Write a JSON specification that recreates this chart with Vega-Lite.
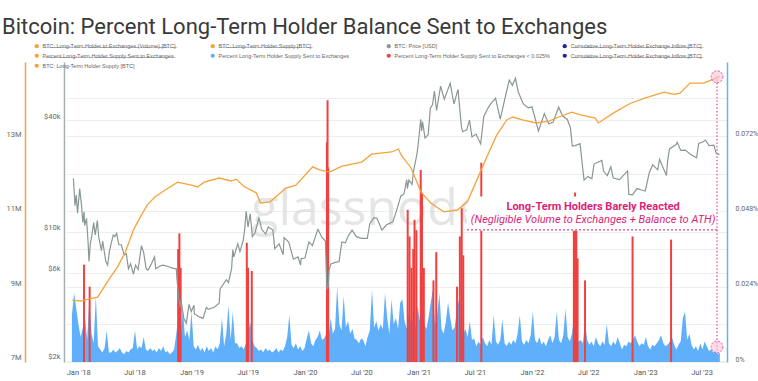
{
"$schema":"https://vega.github.io/schema/vega-lite/v6.json",
"width":661,"height":300,
"autosize":{"type":"none"},
"padding":{"left":66,"top":62,"right":31,"bottom":19},
"background":"white",
"title":{"text":"Bitcoin: Percent Long-Term Holder Balance Sent to Exchanges","anchor":"start","frame":"group","dx":-64,"fontSize":22,"font":"Roboto","fontWeight":"normal","color":"#3a3a3a"},
"config":{"view":{"stroke":null},"axis":{"title":null,"labelFont":"Roboto","labelFontSize":7.5,"labelColor":"#666","ticks":false,"grid":false}},
"datasets":{
"price":[{"d":"2017-12-16","v":19400},{"d":"2017-12-17","v":19100},{"d":"2017-12-22","v":13800},{"d":"2017-12-26","v":15800},{"d":"2017-12-30","v":12600},{"d":"2018-01-06","v":17100},{"d":"2018-01-12","v":13800},{"d":"2018-01-16","v":11200},{"d":"2018-01-20","v":12800},{"d":"2018-01-22","v":10800},{"d":"2018-01-28","v":11800},{"d":"2018-02-02","v":8800},{"d":"2018-02-05","v":6900},{"d":"2018-02-09","v":8600},{"d":"2018-02-14","v":9500},{"d":"2018-02-20","v":11200},{"d":"2018-02-25","v":9600},{"d":"2018-03-04","v":11500},{"d":"2018-03-08","v":9400},{"d":"2018-03-17","v":7900},{"d":"2018-03-21","v":8900},{"d":"2018-03-31","v":6900},{"d":"2018-04-06","v":6600},{"d":"2018-04-12","v":7900},{"d":"2018-04-24","v":9600},{"d":"2018-04-29","v":9400},{"d":"2018-05-05","v":9800},{"d":"2018-05-12","v":8500},{"d":"2018-05-20","v":8500},{"d":"2018-05-29","v":7500},{"d":"2018-06-05","v":7600},{"d":"2018-06-12","v":6300},{"d":"2018-06-19","v":6700},{"d":"2018-06-28","v":5900},{"d":"2018-07-05","v":6600},{"d":"2018-07-13","v":6250},{"d":"2018-07-24","v":8400},{"d":"2018-07-31","v":7700},{"d":"2018-08-08","v":6300},{"d":"2018-08-14","v":6200},{"d":"2018-08-25","v":6700},{"d":"2018-09-04","v":7300},{"d":"2018-09-08","v":6300},{"d":"2018-09-20","v":6500},{"d":"2018-10-01","v":6600},{"d":"2018-10-15","v":6500},{"d":"2018-11-01","v":6350},{"d":"2018-11-13","v":6300},{"d":"2018-11-15","v":5600},{"d":"2018-11-20","v":4500},{"d":"2018-11-25","v":3900},{"d":"2018-11-28","v":4300},{"d":"2018-12-07","v":3400},{"d":"2018-12-15","v":3200},{"d":"2018-12-24","v":4050},{"d":"2018-12-31","v":3700},{"d":"2019-01-09","v":4000},{"d":"2019-01-10","v":3600},{"d":"2019-01-28","v":3450},{"d":"2019-02-07","v":3400},{"d":"2019-02-18","v":3900},{"d":"2019-02-24","v":3800},{"d":"2019-03-15","v":3900},{"d":"2019-03-31","v":4100},{"d":"2019-04-03","v":4900},{"d":"2019-04-23","v":5500},{"d":"2019-04-30","v":5300},{"d":"2019-05-10","v":6300},{"d":"2019-05-14","v":8000},{"d":"2019-05-17","v":7300},{"d":"2019-05-30","v":8600},{"d":"2019-06-06","v":7800},{"d":"2019-06-16","v":8900},{"d":"2019-06-21","v":10200},{"d":"2019-06-26","v":12900},{"d":"2019-07-02","v":10600},{"d":"2019-07-09","v":12500},{"d":"2019-07-16","v":9400},{"d":"2019-07-25","v":9900},{"d":"2019-08-06","v":11900},{"d":"2019-08-15","v":10300},{"d":"2019-08-28","v":9700},{"d":"2019-09-05","v":10600},{"d":"2019-09-20","v":10200},{"d":"2019-09-26","v":8100},{"d":"2019-10-10","v":8600},{"d":"2019-10-23","v":7500},{"d":"2019-10-26","v":9300},{"d":"2019-11-10","v":8800},{"d":"2019-11-25","v":7100},{"d":"2019-12-10","v":7300},{"d":"2019-12-18","v":6600},{"d":"2019-12-20","v":7150},{"d":"2020-01-01","v":7200},{"d":"2020-01-14","v":8800},{"d":"2020-01-25","v":8400},{"d":"2020-02-12","v":10300},{"d":"2020-02-25","v":9300},{"d":"2020-03-07","v":8900},{"d":"2020-03-12","v":4900},{"d":"2020-03-16","v":5000},{"d":"2020-03-19","v":6200},{"d":"2020-03-25","v":6700},{"d":"2020-04-05","v":6800},{"d":"2020-04-20","v":6900},{"d":"2020-04-29","v":8800},{"d":"2020-05-10","v":8700},{"d":"2020-05-20","v":9500},{"d":"2020-06-01","v":10200},{"d":"2020-06-15","v":9400},{"d":"2020-07-01","v":9200},{"d":"2020-07-20","v":9200},{"d":"2020-07-28","v":11000},{"d":"2020-08-10","v":11900},{"d":"2020-08-20","v":11800},{"d":"2020-09-05","v":10200},{"d":"2020-09-20","v":10900},{"d":"2020-10-10","v":11300},{"d":"2020-10-21","v":12800},{"d":"2020-11-05","v":15600},{"d":"2020-11-15","v":16000},{"d":"2020-11-24","v":19100},{"d":"2020-11-26","v":17100},{"d":"2020-12-01","v":19000},{"d":"2020-12-11","v":18000},{"d":"2020-12-16","v":21300},{"d":"2020-12-27","v":26300},{"d":"2021-01-02","v":32000},{"d":"2021-01-08","v":40500},{"d":"2021-01-11","v":35000},{"d":"2021-01-14","v":39200},{"d":"2021-01-22","v":32000},{"d":"2021-02-01","v":33500},{"d":"2021-02-08","v":46400},{"d":"2021-02-15","v":48700},{"d":"2021-02-21","v":57500},{"d":"2021-02-28","v":45200},{"d":"2021-03-13","v":61200},{"d":"2021-03-25","v":52000},{"d":"2021-04-13","v":63500},{"d":"2021-04-25","v":49000},{"d":"2021-05-08","v":58800},{"d":"2021-05-12","v":49500},{"d":"2021-05-19","v":37000},{"d":"2021-05-23","v":34700},{"d":"2021-06-05","v":35500},{"d":"2021-06-14","v":40100},{"d":"2021-06-22","v":32500},{"d":"2021-07-05","v":33700},{"d":"2021-07-20","v":29800},{"d":"2021-07-30","v":42000},{"d":"2021-08-14","v":47000},{"d":"2021-08-23","v":49500},{"d":"2021-09-06","v":52600},{"d":"2021-09-21","v":40600},{"d":"2021-10-05","v":51500},{"d":"2021-10-20","v":66000},{"d":"2021-10-30","v":61800},{"d":"2021-11-09","v":67500},{"d":"2021-11-18","v":56900},{"d":"2021-12-04","v":49200},{"d":"2021-12-20","v":46700},{"d":"2022-01-01","v":47300},{"d":"2022-01-10","v":41800},{"d":"2022-01-22","v":35000},{"d":"2022-02-10","v":43500},{"d":"2022-02-24","v":38300},{"d":"2022-03-10","v":39000},{"d":"2022-03-28","v":47100},{"d":"2022-04-10","v":42200},{"d":"2022-04-25","v":40400},{"d":"2022-05-05","v":36500},{"d":"2022-05-11","v":29000},{"d":"2022-05-20","v":29200},{"d":"2022-06-05","v":29900},{"d":"2022-06-13","v":22400},{"d":"2022-06-18","v":19000},{"d":"2022-06-30","v":19900},{"d":"2022-07-13","v":19300},{"d":"2022-07-20","v":23200},{"d":"2022-08-14","v":24300},{"d":"2022-08-20","v":21200},{"d":"2022-09-01","v":20100},{"d":"2022-09-12","v":22400},{"d":"2022-09-20","v":19500},{"d":"2022-10-10","v":19100},{"d":"2022-10-28","v":20600},{"d":"2022-11-05","v":21300},{"d":"2022-11-09","v":15900},{"d":"2022-11-21","v":15800},{"d":"2022-12-05","v":17100},{"d":"2022-12-20","v":16800},{"d":"2023-01-01","v":16600},{"d":"2023-01-14","v":20900},{"d":"2023-01-25","v":23000},{"d":"2023-02-10","v":21600},{"d":"2023-02-16","v":24600},{"d":"2023-03-10","v":20100},{"d":"2023-03-14","v":24200},{"d":"2023-03-20","v":28000},{"d":"2023-04-10","v":29600},{"d":"2023-04-14","v":30400},{"d":"2023-04-25","v":27500},{"d":"2023-05-10","v":27600},{"d":"2023-05-25","v":26300},{"d":"2023-06-15","v":25100},{"d":"2023-06-22","v":30000},{"d":"2023-07-05","v":30500},{"d":"2023-07-14","v":31300},{"d":"2023-07-25","v":29200},{"d":"2023-08-10","v":29400},{"d":"2023-08-17","v":26600},{"d":"2023-08-28","v":26100}],
"supply":[{"d":"2017-12-13","v":8.55},{"d":"2018-01-10","v":8.52},{"d":"2018-02-05","v":8.58},{"d":"2018-03-05","v":8.63},{"d":"2018-04-09","v":9.09},{"d":"2018-05-08","v":9.44},{"d":"2018-06-02","v":9.84},{"d":"2018-06-28","v":10.43},{"d":"2018-07-20","v":10.78},{"d":"2018-08-11","v":11.1},{"d":"2018-09-05","v":11.32},{"d":"2018-10-07","v":11.5},{"d":"2018-11-17","v":11.72},{"d":"2019-01-01","v":11.64},{"d":"2019-01-20","v":11.59},{"d":"2019-02-11","v":11.72},{"d":"2019-03-31","v":11.83},{"d":"2019-05-08","v":11.75},{"d":"2019-05-25","v":11.8},{"d":"2019-06-18","v":11.61},{"d":"2019-07-29","v":11.43},{"d":"2019-08-11","v":11.16},{"d":"2019-09-11","v":11.19},{"d":"2019-11-01","v":11.56},{"d":"2019-12-03","v":11.64},{"d":"2020-01-26","v":12.13},{"d":"2020-02-17","v":12.05},{"d":"2020-03-20","v":11.99},{"d":"2020-04-30","v":12.15},{"d":"2020-07-02","v":12.26},{"d":"2020-08-03","v":12.47},{"d":"2020-10-06","v":12.53},{"d":"2020-10-28","v":12.61},{"d":"2020-11-06","v":12.45},{"d":"2020-12-08","v":12.1},{"d":"2021-01-09","v":11.45},{"d":"2021-02-09","v":11.16},{"d":"2021-03-23","v":10.92},{"d":"2021-05-06","v":10.97},{"d":"2021-06-07","v":11.19},{"d":"2021-07-08","v":11.78},{"d":"2021-08-09","v":12.4},{"d":"2021-09-10","v":12.99},{"d":"2021-10-12","v":13.39},{"d":"2021-10-31","v":13.47},{"d":"2021-12-01","v":13.39},{"d":"2022-01-15","v":13.31},{"d":"2022-02-25","v":13.36},{"d":"2022-03-29","v":13.47},{"d":"2022-05-09","v":13.6},{"d":"2022-06-10","v":13.52},{"d":"2022-07-24","v":13.44},{"d":"2022-08-03","v":13.31},{"d":"2022-09-25","v":13.6},{"d":"2022-11-15","v":13.84},{"d":"2022-12-30","v":13.98},{"d":"2023-03-03","v":14.14},{"d":"2023-04-04","v":14.08},{"d":"2023-04-23","v":14.11},{"d":"2023-05-25","v":14.38},{"d":"2023-07-08","v":14.38},{"d":"2023-08-09","v":14.49},{"d":"2023-08-28","v":14.57}],
"pct":[{"d":"2017-12-12","v":0.015},{"d":"2017-12-19","v":0.022},{"d":"2017-12-26","v":0.017},{"d":"2018-01-02","v":0.012},{"d":"2018-01-09","v":0.008},{"d":"2018-01-16","v":0.011},{"d":"2018-01-23","v":0.014},{"d":"2018-01-30","v":0.007},{"d":"2018-02-06","v":0.020},{"d":"2018-02-13","v":0.009},{"d":"2018-02-20","v":0.006},{"d":"2018-02-27","v":0.021},{"d":"2018-03-06","v":0.005},{"d":"2018-03-13","v":0.004},{"d":"2018-03-20","v":0.003},{"d":"2018-03-27","v":0.0045},{"d":"2018-04-03","v":0.010},{"d":"2018-04-10","v":0.003},{"d":"2018-04-17","v":0.003},{"d":"2018-04-24","v":0.004},{"d":"2018-05-01","v":0.003},{"d":"2018-05-08","v":0.0035},{"d":"2018-05-15","v":0.0045},{"d":"2018-05-22","v":0.003},{"d":"2018-05-29","v":0.0025},{"d":"2018-06-05","v":0.0035},{"d":"2018-06-12","v":0.003},{"d":"2018-06-19","v":0.004},{"d":"2018-06-26","v":0.0045},{"d":"2018-07-03","v":0.010},{"d":"2018-07-10","v":0.004},{"d":"2018-07-17","v":0.005},{"d":"2018-07-24","v":0.0045},{"d":"2018-07-31","v":0.008},{"d":"2018-08-07","v":0.004},{"d":"2018-08-14","v":0.0035},{"d":"2018-08-21","v":0.0045},{"d":"2018-08-28","v":0.0035},{"d":"2018-09-04","v":0.004},{"d":"2018-09-11","v":0.003},{"d":"2018-09-18","v":0.0045},{"d":"2018-09-25","v":0.0035},{"d":"2018-10-02","v":0.005},{"d":"2018-10-09","v":0.003},{"d":"2018-10-16","v":0.0035},{"d":"2018-10-23","v":0.0025},{"d":"2018-10-30","v":0.003},{"d":"2018-11-06","v":0.004},{"d":"2018-11-13","v":0.009},{"d":"2018-11-20","v":0.015},{"d":"2018-11-27","v":0.007},{"d":"2018-12-04","v":0.017},{"d":"2018-12-11","v":0.008},{"d":"2018-12-18","v":0.010},{"d":"2018-12-25","v":0.007},{"d":"2019-01-01","v":0.016},{"d":"2019-01-08","v":0.005},{"d":"2019-01-15","v":0.004},{"d":"2019-01-22","v":0.0055},{"d":"2019-01-29","v":0.0035},{"d":"2019-02-05","v":0.0045},{"d":"2019-02-12","v":0.003},{"d":"2019-02-19","v":0.005},{"d":"2019-02-26","v":0.0035},{"d":"2019-03-05","v":0.0045},{"d":"2019-03-12","v":0.003},{"d":"2019-03-19","v":0.005},{"d":"2019-03-26","v":0.004},{"d":"2019-04-02","v":0.006},{"d":"2019-04-09","v":0.014},{"d":"2019-04-16","v":0.005},{"d":"2019-04-23","v":0.009},{"d":"2019-04-30","v":0.018},{"d":"2019-05-07","v":0.007},{"d":"2019-05-14","v":0.016},{"d":"2019-05-21","v":0.006},{"d":"2019-05-28","v":0.006},{"d":"2019-06-04","v":0.0045},{"d":"2019-06-11","v":0.005},{"d":"2019-06-18","v":0.004},{"d":"2019-06-25","v":0.006},{"d":"2019-07-02","v":0.009},{"d":"2019-07-09","v":0.013},{"d":"2019-07-16","v":0.007},{"d":"2019-07-23","v":0.005},{"d":"2019-07-30","v":0.0045},{"d":"2019-08-06","v":0.0035},{"d":"2019-08-13","v":0.004},{"d":"2019-08-20","v":0.003},{"d":"2019-08-27","v":0.0045},{"d":"2019-09-03","v":0.0035},{"d":"2019-09-10","v":0.004},{"d":"2019-09-17","v":0.003},{"d":"2019-09-24","v":0.0035},{"d":"2019-10-01","v":0.0045},{"d":"2019-10-08","v":0.003},{"d":"2019-10-15","v":0.004},{"d":"2019-10-22","v":0.0035},{"d":"2019-10-29","v":0.005},{"d":"2019-11-05","v":0.008},{"d":"2019-11-12","v":0.015},{"d":"2019-11-19","v":0.0055},{"d":"2019-11-26","v":0.0045},{"d":"2019-12-03","v":0.006},{"d":"2019-12-10","v":0.004},{"d":"2019-12-17","v":0.005},{"d":"2019-12-24","v":0.0035},{"d":"2019-12-31","v":0.0045},{"d":"2020-01-07","v":0.0075},{"d":"2020-01-14","v":0.010},{"d":"2020-01-21","v":0.006},{"d":"2020-01-28","v":0.005},{"d":"2020-02-04","v":0.007},{"d":"2020-02-11","v":0.008},{"d":"2020-02-18","v":0.010},{"d":"2020-02-25","v":0.007},{"d":"2020-03-03","v":0.0075},{"d":"2020-03-10","v":0.009},{"d":"2020-03-17","v":0.008},{"d":"2020-03-24","v":0.014},{"d":"2020-03-31","v":0.009},{"d":"2020-04-07","v":0.0105},{"d":"2020-04-14","v":0.024},{"d":"2020-04-21","v":0.012},{"d":"2020-04-28","v":0.010},{"d":"2020-05-05","v":0.021},{"d":"2020-05-12","v":0.011},{"d":"2020-05-19","v":0.013},{"d":"2020-05-26","v":0.009},{"d":"2020-06-02","v":0.0105},{"d":"2020-06-09","v":0.0075},{"d":"2020-06-16","v":0.007},{"d":"2020-06-23","v":0.006},{"d":"2020-06-30","v":0.0075},{"d":"2020-07-07","v":0.007},{"d":"2020-07-14","v":0.005},{"d":"2020-07-21","v":0.008},{"d":"2020-07-28","v":0.010},{"d":"2020-08-04","v":0.023},{"d":"2020-08-11","v":0.011},{"d":"2020-08-18","v":0.013},{"d":"2020-08-25","v":0.010},{"d":"2020-09-01","v":0.012},{"d":"2020-09-08","v":0.0105},{"d":"2020-09-15","v":0.022},{"d":"2020-09-22","v":0.014},{"d":"2020-09-29","v":0.009},{"d":"2020-10-06","v":0.020},{"d":"2020-10-13","v":0.012},{"d":"2020-10-20","v":0.014},{"d":"2020-10-27","v":0.0105},{"d":"2020-11-03","v":0.019},{"d":"2020-11-10","v":0.020},{"d":"2020-11-17","v":0.013},{"d":"2020-11-24","v":0.0105},{"d":"2020-12-01","v":0.016},{"d":"2020-12-08","v":0.012},{"d":"2020-12-15","v":0.014},{"d":"2020-12-22","v":0.011},{"d":"2020-12-29","v":0.018},{"d":"2021-01-05","v":0.013},{"d":"2021-01-12","v":0.021},{"d":"2021-01-19","v":0.012},{"d":"2021-01-26","v":0.0105},{"d":"2021-02-02","v":0.014},{"d":"2021-02-09","v":0.019},{"d":"2021-02-16","v":0.023},{"d":"2021-02-23","v":0.012},{"d":"2021-03-02","v":0.015},{"d":"2021-03-09","v":0.022},{"d":"2021-03-16","v":0.0105},{"d":"2021-03-23","v":0.009},{"d":"2021-03-30","v":0.013},{"d":"2021-04-06","v":0.019},{"d":"2021-04-13","v":0.014},{"d":"2021-04-20","v":0.010},{"d":"2021-04-27","v":0.011},{"d":"2021-05-04","v":0.016},{"d":"2021-05-11","v":0.020},{"d":"2021-05-18","v":0.012},{"d":"2021-05-25","v":0.009},{"d":"2021-06-01","v":0.0105},{"d":"2021-06-08","v":0.008},{"d":"2021-06-15","v":0.013},{"d":"2021-06-22","v":0.007},{"d":"2021-06-29","v":0.0075},{"d":"2021-07-06","v":0.005},{"d":"2021-07-13","v":0.0065},{"d":"2021-07-20","v":0.0055},{"d":"2021-07-27","v":0.008},{"d":"2021-08-03","v":0.006},{"d":"2021-08-10","v":0.005},{"d":"2021-08-17","v":0.007},{"d":"2021-08-24","v":0.0055},{"d":"2021-08-31","v":0.015},{"d":"2021-09-07","v":0.0065},{"d":"2021-09-14","v":0.0055},{"d":"2021-09-21","v":0.007},{"d":"2021-09-28","v":0.0135},{"d":"2021-10-05","v":0.006},{"d":"2021-10-12","v":0.005},{"d":"2021-10-19","v":0.0065},{"d":"2021-10-26","v":0.0055},{"d":"2021-11-02","v":0.007},{"d":"2021-11-09","v":0.006},{"d":"2021-11-16","v":0.009},{"d":"2021-11-23","v":0.015},{"d":"2021-11-30","v":0.0065},{"d":"2021-12-07","v":0.0055},{"d":"2021-12-14","v":0.007},{"d":"2021-12-21","v":0.006},{"d":"2021-12-28","v":0.0085},{"d":"2022-01-04","v":0.016},{"d":"2022-01-11","v":0.007},{"d":"2022-01-18","v":0.006},{"d":"2022-01-25","v":0.008},{"d":"2022-02-01","v":0.0055},{"d":"2022-02-08","v":0.0065},{"d":"2022-02-15","v":0.005},{"d":"2022-02-22","v":0.007},{"d":"2022-03-01","v":0.0085},{"d":"2022-03-08","v":0.006},{"d":"2022-03-15","v":0.008},{"d":"2022-03-22","v":0.016},{"d":"2022-03-29","v":0.007},{"d":"2022-04-05","v":0.006},{"d":"2022-04-12","v":0.0085},{"d":"2022-04-19","v":0.017},{"d":"2022-04-26","v":0.008},{"d":"2022-05-03","v":0.0065},{"d":"2022-05-10","v":0.009},{"d":"2022-05-17","v":0.015},{"d":"2022-05-24","v":0.0085},{"d":"2022-05-31","v":0.0065},{"d":"2022-06-07","v":0.007},{"d":"2022-06-14","v":0.006},{"d":"2022-06-21","v":0.013},{"d":"2022-06-28","v":0.007},{"d":"2022-07-05","v":0.0055},{"d":"2022-07-12","v":0.0065},{"d":"2022-07-19","v":0.005},{"d":"2022-07-26","v":0.008},{"d":"2022-08-02","v":0.006},{"d":"2022-08-09","v":0.005},{"d":"2022-08-16","v":0.0065},{"d":"2022-08-23","v":0.0055},{"d":"2022-08-30","v":0.012},{"d":"2022-09-06","v":0.006},{"d":"2022-09-13","v":0.005},{"d":"2022-09-20","v":0.0065},{"d":"2022-09-27","v":0.0055},{"d":"2022-10-04","v":0.008},{"d":"2022-10-11","v":0.006},{"d":"2022-10-18","v":0.004},{"d":"2022-10-25","v":0.0055},{"d":"2022-11-01","v":0.005},{"d":"2022-11-08","v":0.0065},{"d":"2022-11-15","v":0.006},{"d":"2022-11-22","v":0.007},{"d":"2022-11-29","v":0.0085},{"d":"2022-12-06","v":0.0065},{"d":"2022-12-13","v":0.005},{"d":"2022-12-20","v":0.006},{"d":"2022-12-27","v":0.0055},{"d":"2023-01-03","v":0.008},{"d":"2023-01-10","v":0.005},{"d":"2023-01-17","v":0.004},{"d":"2023-01-24","v":0.0055},{"d":"2023-01-31","v":0.005},{"d":"2023-02-07","v":0.006},{"d":"2023-02-14","v":0.007},{"d":"2023-02-21","v":0.0085},{"d":"2023-02-28","v":0.006},{"d":"2023-03-07","v":0.005},{"d":"2023-03-14","v":0.0055},{"d":"2023-03-21","v":0.0065},{"d":"2023-03-28","v":0.008},{"d":"2023-04-04","v":0.0055},{"d":"2023-04-11","v":0.004},{"d":"2023-04-18","v":0.0055},{"d":"2023-04-25","v":0.0065},{"d":"2023-05-02","v":0.014},{"d":"2023-05-09","v":0.016},{"d":"2023-05-16","v":0.007},{"d":"2023-05-23","v":0.009},{"d":"2023-05-30","v":0.0055},{"d":"2023-06-06","v":0.004},{"d":"2023-06-13","v":0.005},{"d":"2023-06-20","v":0.0035},{"d":"2023-06-27","v":0.006},{"d":"2023-07-04","v":0.004},{"d":"2023-07-11","v":0.0065},{"d":"2023-07-18","v":0.005},{"d":"2023-07-25","v":0.0035},{"d":"2023-08-01","v":0.004},{"d":"2023-08-08","v":0.003},{"d":"2023-08-15","v":0.0035},{"d":"2023-08-22","v":0.0025},{"d":"2023-08-29","v":0.003}],
"red":[{"d":"2018-01-20","v":0.031},{"d":"2018-02-07","v":0.024},{"d":"2018-11-19","v":0.036},{"d":"2018-11-23","v":0.041},{"d":"2018-11-27","v":0.030},{"d":"2019-06-28","v":0.038},{"d":"2019-07-02","v":0.030},{"d":"2019-07-14","v":0.029},{"d":"2020-03-12","v":0.070},{"d":"2020-03-14","v":0.0834},{"d":"2020-03-16","v":0.062},{"d":"2020-11-27","v":0.0485},{"d":"2020-12-03","v":0.040},{"d":"2020-12-09","v":0.030},{"d":"2020-12-15","v":0.036},{"d":"2020-12-19","v":0.0453},{"d":"2020-12-25","v":0.042},{"d":"2021-01-08","v":0.0612},{"d":"2021-01-12","v":0.054},{"d":"2021-01-18","v":0.030},{"d":"2021-02-18","v":0.026},{"d":"2021-02-27","v":0.035},{"d":"2021-05-05","v":0.024},{"d":"2021-05-14","v":0.040},{"d":"2021-05-20","v":0.049},{"d":"2021-05-25","v":0.034},{"d":"2021-07-22","v":0.0635},{"d":"2022-05-16","v":0.045},{"d":"2022-05-20","v":0.054},{"d":"2022-05-24","v":0.048},{"d":"2022-05-28","v":0.033},{"d":"2022-06-21","v":0.026},{"d":"2022-11-21","v":0.040},{"d":"2023-03-25","v":0.039}],
"legend":[{"k":"a"},{"k":"b"},{"k":"c"},{"k":"d"},{"k":"e"},{"k":"f"},{"k":"g"},{"k":"h"},{"k":"i"}]
},
"resolve":{"scale":{"y":"independent","color":"independent"}},
"encoding":{"x":{"field":"d","type":"temporal","scale":{"type":"utc","domain":[{"year":2017,"month":12,"date":9,"utc":true},{"year":2023,"month":9,"date":5,"utc":true}]},"axis":{"values":[{"year":2018,"month":1,"date":1,"utc":true},{"year":2018,"month":7,"date":1,"utc":true},{"year":2019,"month":1,"date":1,"utc":true},{"year":2019,"month":7,"date":1,"utc":true},{"year":2020,"month":1,"date":1,"utc":true},{"year":2020,"month":7,"date":1,"utc":true},{"year":2021,"month":1,"date":1,"utc":true},{"year":2021,"month":7,"date":1,"utc":true},{"year":2022,"month":1,"date":1,"utc":true},{"year":2022,"month":7,"date":1,"utc":true},{"year":2023,"month":1,"date":1,"utc":true},{"year":2023,"month":7,"date":1,"utc":true}],"format":"%b '%y","labelPadding":6,"domain":false,"labelColor":"#555"}}},
"layer":[
{
"encoding":{"y":{"field":"v","type":"quantitative","scale":{"domain":[0,0.0956],"nice":false,"zero":true},"axis":{"orient":"right","values":[0,0.012,0.024,0.036,0.048,0.06,0.072,0.084],"labelExpr":"round(datum.value*1000) % 24 != 0 ? '' : (datum.value == 0 ? '0%' : format(datum.value, '.3f') + '%')","grid":true,"gridColor":"#eeeeee","domainColor":"#62b2f5","domainWidth":1.5,"labelPadding":8,"labelOffset":-3,"labelFontSize":7}}},
"layer":[
{"data":{"values":[{"d":"2020-07-24","v":0.0485,"t":"glassnode"}]},"mark":{"type":"text","font":"Open Sans","fontSize":50,"fontWeight":500,"color":"#d4d4d4","opacity":0.6,"align":"center","baseline":"middle"},"encoding":{"text":{"field":"t"}}},
{"data":{"name":"pct"},"mark":{"type":"area","color":"#60affa","interpolate":"linear"},"encoding":{}},
{"data":{"name":"red"},"mark":{"type":"bar","color":"#f0403f","width":2},"encoding":{}},
{"data":{"values":[{"d":"2021-06-06","d2":"2023-08-20","v":0.0527,"v2":0.0418}]},"mark":{"type":"rect","color":"white"},"encoding":{"x2":{"field":"d2"},"y2":{"field":"v2"}}},
{"data":{"values":[{"d":"2021-06-06","d2":"2023-08-20","v":0.0421}]},"mark":{"type":"rule","color":"#dc1e78","strokeDash":[2,2],"strokeWidth":1},"encoding":{"x2":{"field":"d2"}}},
{"data":{"values":[{"d":"2023-08-20","v":0.0037,"v2":0.0903}]},"mark":{"type":"rule","color":"#dc1e78","strokeDash":[1.5,2],"strokeWidth":1},"encoding":{"y2":{"field":"v2"}}},
{"data":{"values":[{"d":"2022-07-17","v":0.0493,"t":"Long-Term Holders Barely Reacted"}]},"mark":{"type":"text","font":"Roboto","fontSize":11,"fontWeight":"bold","color":"#dc1e78","align":"center","baseline":"middle"},"encoding":{"text":{"field":"t"}}},
{"data":{"values":[{"d":"2022-07-17","v":0.0451,"t":"(Negligible Volume to Exchanges + Balance to ATH)"}]},"mark":{"type":"text","font":"Roboto","fontSize":11,"fontStyle":"italic","color":"#dc1e78","align":"center","baseline":"middle"},"encoding":{"text":{"field":"t"}}}
]
},
{"data":{"name":"price"},"mark":{"type":"line","color":"#8a9797","strokeWidth":1.2},"encoding":{"y":{"field":"v","type":"quantitative","scale":{"type":"log","domain":[1975,82640],"nice":false},"axis":{"orient":"left","offset":2,"values":[2000,6000,10000,40000],"labelExpr":"'$' + datum.value/1000 + 'k'","grid":true,"gridColor":"#eeeeee","domainColor":"#a9b0b0","domainWidth":1.5,"labelPadding":4,"labelOffset":-4}}}},
{"data":{"name":"supply"},"mark":{"type":"line","color":"#f5a33b","strokeWidth":1.3},"encoding":{"y":{"field":"v","type":"quantitative","scale":{"domain":[6.884,14.949],"nice":false,"zero":false},"axis":{"orient":"left","offset":41,"values":[7,9,11,13],"labelExpr":"datum.value + 'M'","domainColor":"#f5a33b","domainWidth":1.5,"labelPadding":4}}}},
{"data":{"values":[{"d":"2023-08-20","v":0.0909},{"d":"2023-08-20","v":0.0048}]},"mark":{"type":"point","filled":true,"size":140,"fill":"#f7c3dc","fillOpacity":0.6,"stroke":"#e0559b","strokeDash":[2,1.5],"strokeWidth":1},"encoding":{"y":{"field":"v","type":"quantitative","scale":{"domain":[0,0.0956],"nice":false},"axis":null}}},
{"data":{"name":"legend"},"mark":{"type":"point","filled":true,"opacity":0},"encoding":{"color":{"field":"k","type":"nominal","scale":{"domain":["a","b","c","d","e","f","g","h","i"],"range":["#f5a33b","#f5a33b","#8a9797","#2020a0","#f5a33b","#60affa","#f0403f","#2020a0","#f5a33b"]},"legend":{"orient":"none","legendX":-32,"legendY":-19,"columns":4,"direction":"horizontal","gridAlign":"all","columnPadding":12,"rowPadding":3,"symbolType":"circle","symbolSize":18,"symbolOpacity":1,"symbolStrokeWidth":0,"labelFontSize":5.5,"labelFont":"Liberation Sans, DejaVu Sans","labelColor":"#666","labelLimit":400,"labelOffset":3,"title":null,"labelExpr":"indexof(['a','b','d','e','h'], datum.value) >= 0 ? replace(['BTC: Long-Term Holder to Exchanges (Volume) [BTC]','BTC: Long-Term Holder Supply [BTC]','BTC: Price [USD]','Cumulative Long-Term Holder Exchange Inflow [BTC]','Percent Long-Term Holder Supply Sent to Exchanges','Percent Long-Term Holder Supply Sent to Exchanges','Percent Long-Term Holder Supply Sent to Exchanges < 0.025%','Cumulative Long-Term Holder Exchange Inflow [BTC]','BTC: Long-Term Holder Supply [BTC]'][indexof(['a','b','c','d','e','f','g','h','i'], datum.value)], regexp('(.)','g'), '$1\u0336') : ['BTC: Long-Term Holder to Exchanges (Volume) [BTC]','BTC: Long-Term Holder Supply [BTC]','BTC: Price [USD]','Cumulative Long-Term Holder Exchange Inflow [BTC]','Percent Long-Term Holder Supply Sent to Exchanges','Percent Long-Term Holder Supply Sent to Exchanges','Percent Long-Term Holder Supply Sent to Exchanges < 0.025%','Cumulative Long-Term Holder Exchange Inflow [BTC]','BTC: Long-Term Holder Supply [BTC]'][indexof(['a','b','c','d','e','f','g','h','i'], datum.value)]"}}}}
]
}
